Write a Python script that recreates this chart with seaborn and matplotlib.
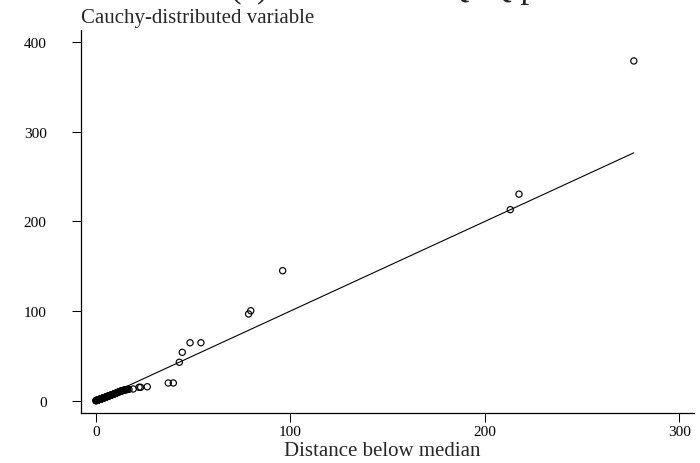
import numpy as np
import pandas as pd
import matplotlib
matplotlib.use("Agg")
import matplotlib.pyplot as plt
import seaborn as sns

# Distance below median (x) and distance above median (y)
below_median = [0.1, 0.2, 0.3, 0.4, 0.5, 0.6, 0.7, 0.8, 0.9, 1.0, 1.1, 1.2, 1.3, 1.4,
                1.5, 1.6, 1.75, 1.9, 2.0, 2.1, 2.25, 2.4, 2.55, 2.7, 2.85, 3.0, 3.15,
                3.3, 3.45, 3.6, 3.75, 3.9, 4.05, 4.2, 4.35, 4.5, 4.7, 4.9, 5.1, 5.3,
                5.5, 5.7, 5.9, 6.1, 6.3, 6.5, 6.7, 6.9, 7.15, 7.4, 7.65, 7.9, 8.15,
                8.4, 8.65, 8.9, 9.2, 9.5, 9.8, 10.1, 10.4, 10.7, 11.0, 11.3, 11.65,
                12.0, 12.35, 12.7, 13.05, 13.4, 13.75, 14.1, 14.5, 14.9, 15.3, 15.7,
                16.0, 16.4, 17.1, 19.3, 22.3, 23.1, 26.5, 37.3, 39.9, 43.0, 44.5,
                48.5, 54.1, 78.6, 79.7, 96.1, 213.1, 217.6, 276.6]
above_median = [0.05, 0.1, 0.2, 0.3, 0.35, 0.4, 0.5, 0.6, 0.65, 0.7, 0.8, 0.9, 1.0, 1.1,
                1.15, 1.2, 1.3, 1.4, 1.5, 1.6, 1.7, 1.8, 1.9, 2.0, 2.1, 2.2, 2.35,
                2.5, 2.6, 2.7, 2.85, 3.0, 3.1, 3.2, 3.35, 3.5, 3.65, 3.8, 3.95, 4.1,
                4.3, 4.5, 4.65, 4.8, 5.0, 5.2, 5.35, 5.5, 5.7, 5.9, 6.1, 6.3, 6.5,
                6.7, 6.9, 7.1, 7.35, 7.6, 7.85, 8.1, 8.4, 8.7, 9.0, 9.3, 9.6,
                9.9, 10.2, 10.5, 10.75, 11.0, 11.25, 11.5, 11.75, 12.0, 12.2, 12.4,
                12.5, 12.6, 12.7, 13.1, 15.0, 15.0, 15.6, 19.8, 19.8, 42.9, 54.0,
                64.7, 64.7, 96.8, 100.4, 145.1, 213.2, 230.5, 379.1]

x_ticks = [0, 100, 200, 300]
y_ticks = [0, 100, 200, 300, 400]

title_text = "(a) Theoretical Q\u2013Q plot"
y_title = "Cauchy-distributed variable"
x_title = "Distance below median"

df = pd.DataFrame({"below": below_median, "above": above_median})
ref = pd.DataFrame({"below": [min(below_median), max(below_median)],
                    "above": [min(below_median), max(below_median)]})

sns.set_theme(style="ticks")
plt.rcParams["font.family"] = ["Liberation Serif", "DejaVu Serif"]

W, H = 700, 464
fig = plt.figure(figsize=(7, 4.64), dpi=100)
ax = fig.add_axes([80.7 / W, 1 - 414 / H, (694.3 - 80.7) / W, (414 - 30.7) / H])

sns.lineplot(data=ref, x="below", y="above", ax=ax, color="black", linewidth=0.8)
sns.scatterplot(data=df, x="below", y="above", ax=ax, marker="o", s=20,
                facecolor="none", edgecolor="black", linewidth=0.85)

ax.set_xlim(-7.71, 307.7)
ax.set_ylim(-13.7, 414)
ax.set_xticks(x_ticks)
ax.set_yticks(y_ticks)
ax.set_xlabel("")
ax.set_ylabel("")
for s in ["top", "right"]:
    ax.spines[s].set_visible(False)
for s in ["left", "bottom"]:
    ax.spines[s].set_linewidth(0.9)
    ax.spines[s].set_color("black")
ax.tick_params(axis="both", direction="out", length=6.5, width=0.75, color="black",
               labelsize=11, labelcolor="black")
ax.tick_params(axis="x", pad=2)
ax.tick_params(axis="y", pad=18)
ax.set_facecolor("white")
fig.patch.set_facecolor("white")

fig.text(81 / W, 1 - 23 / H, y_title, ha="left", va="baseline", fontsize=15)
fig.text(382 / W, 1 - 456 / H, x_title, ha="center", va="baseline", fontsize=15)
fig.text(230 / W, 1 + 2.9 / H, title_text, ha="left", va="baseline", fontsize=25)

fig.savefig("out.png", dpi=100)
